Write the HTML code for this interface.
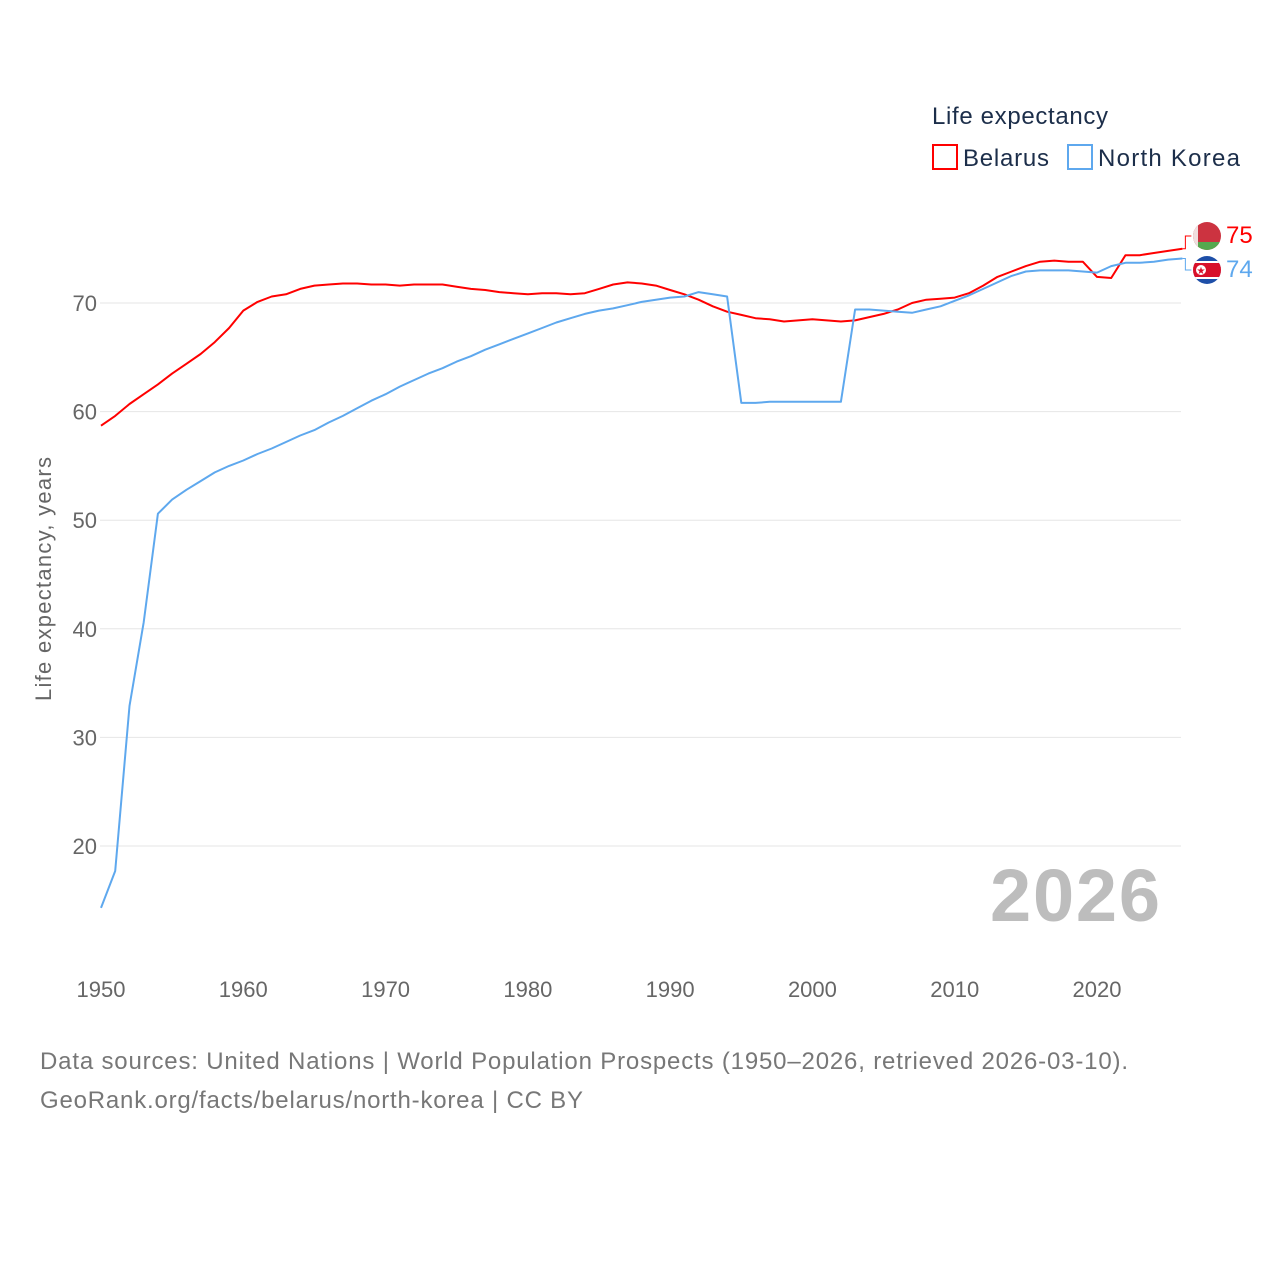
<!DOCTYPE html>
<html><head><meta charset="utf-8"><style>
html,body{margin:0;padding:0;background:#fff;}
svg{display:block;font-family:"Liberation Sans",sans-serif;}
</style></head><body>
<svg id="chart" width="1280" height="1280" viewBox="0 0 1280 1280" xmlns="http://www.w3.org/2000/svg">
<g id="grid"></g>
<g id="yticks"></g>
<g id="xticks"></g>
<text transform="translate(51,579) rotate(-90)" text-anchor="middle" font-size="22" fill="#666" textLength="244">Life expectancy, years</text>
<text x="1160" y="921" text-anchor="end" font-size="74" font-weight="bold" fill="#bdbdbd" textLength="170">2026</text>
<g id="series"></g>
<g>
<text x="932" y="124" font-size="24" fill="#1c2e4a" textLength="176">Life expectancy</text>
<g>
<rect x="933" y="145" width="24" height="24" fill="none" stroke="#ff0000" stroke-width="2"/>
<text x="963" y="166" font-size="24" fill="#1c2e4a" textLength="86">Belarus</text></g>
<g>
<rect x="1068" y="145" width="24" height="24" fill="none" stroke="#5ea8ee" stroke-width="2"/>
<text x="1098" y="166" font-size="24" fill="#1c2e4a" textLength="142">North Korea</text></g>
</g>
<g>
<clipPath id="c1"><circle cx="1207" cy="236" r="14"/></clipPath>
<g clip-path="url(#c1)"><rect x="1193" y="222" width="28" height="28" fill="#cc3340"/><rect x="1193" y="242" width="28" height="8" fill="#55a84f"/><rect x="1193" y="222" width="5" height="28" fill="#f0dede"/></g></g>
<g>
<clipPath id="c2"><circle cx="1207" cy="270" r="14"/></clipPath>
<g clip-path="url(#c2)"><rect x="1193" y="256" width="28" height="28" fill="#1e4fa8"/><rect x="1193" y="261" width="28" height="18" fill="#fff"/><rect x="1193" y="263" width="28" height="14" fill="#d8102a"/><circle cx="1201" cy="270" r="5" fill="#fff"/><text x="1201" y="274" font-size="10" fill="#d8102a" text-anchor="middle">★</text></g></g>
<text x="1226" y="243" font-size="24" fill="#ff0000">75</text>
<text x="1226" y="277" font-size="24" fill="#5ea8ee">74</text>
<text x="40" y="1069" font-size="24" fill="#777" textLength="1088">Data sources: United Nations | World Population Prospects (1950–2026, retrieved 2026-03-10).</text>
<text x="40" y="1108" font-size="24" fill="#777" textLength="543">GeoRank.org/facts/belarus/north-korea | CC BY</text>
</svg>
<script>
const years = [];for (let y=1950;y<=2026;y++) years.push(y);
const belarus = [58.7,59.6,60.7,61.6,62.5,63.5,64.4,65.3,66.4,67.7,69.3,70.1,70.6,70.8,71.3,71.6,71.7,71.8,71.8,71.7,71.7,71.6,71.7,71.7,71.7,71.5,71.3,71.2,71.0,70.9,70.8,70.9,70.9,70.8,70.9,71.3,71.7,71.9,71.8,71.6,71.2,70.8,70.3,69.7,69.2,68.9,68.6,68.5,68.3,68.4,68.5,68.4,68.3,68.4,68.7,69.0,69.4,70.0,70.3,70.4,70.5,70.9,71.6,72.4,72.9,73.4,73.8,73.9,73.8,73.8,72.4,72.3,74.4,74.4,74.6,74.8,75.0];
const northKorea = [14.3,17.7,32.9,40.6,50.6,51.9,52.8,53.6,54.4,55.0,55.5,56.1,56.6,57.2,57.8,58.3,59.0,59.6,60.3,61.0,61.6,62.3,62.9,63.5,64.0,64.6,65.1,65.7,66.2,66.7,67.2,67.7,68.2,68.6,69.0,69.3,69.5,69.8,70.1,70.3,70.5,70.6,71.0,70.8,70.6,60.8,60.8,60.9,60.9,60.9,60.9,60.9,60.9,69.4,69.4,69.3,69.2,69.1,69.4,69.7,70.2,70.7,71.3,71.9,72.5,72.9,73.0,73.0,73.0,72.9,72.8,73.4,73.7,73.7,73.8,74.0,74.1];
const yTicks = [20,30,40,50,60,70];
const xTicks = [1950,1960,1970,1980,1990,2000,2010,2020];
const NS="http://www.w3.org/2000/svg";
const xs = y => 101 + (y-1950)*(1097-101)/70;
const ys = v => 303 + (70-v)*10.86;
function mk(tag, attrs, parent){const e=document.createElementNS(NS,tag);for(const k in attrs)e.setAttribute(k,attrs[k]);parent.appendChild(e);return e;}
const grid=document.getElementById('grid'), yt=document.getElementById('yticks'), xt=document.getElementById('xticks'), ser=document.getElementById('series');
yTicks.forEach(v=>{
  const l=mk('line',{x1:100,x2:1181,y1:ys(v),y2:ys(v),stroke:'#e6e6e6','stroke-width':1},grid);
  
  
  const t=mk('text',{x:97,y:ys(v)+8,'text-anchor':'end','font-size':22,fill:'#666'},yt);
  t.textContent=v;
  
  
});
xTicks.forEach(v=>{
  const t=mk('text',{x:xs(v),y:997,'text-anchor':'middle','font-size':22,fill:'#666'},xt);
  t.textContent=v;
  
  
});
function line(vals,color,name,labelY){
  const d=vals.map((v,i)=>(i?'L':'M')+xs(years[i]).toFixed(1)+','+ys(v).toFixed(1)).join('');
  const p=mk('path',{d:d,fill:'none',stroke:color,'stroke-width':2,'stroke-linejoin':'round'},ser);
  
  
  const ex=xs(years[years.length-1]), ey=ys(vals[vals.length-1]);
  const c=mk('path',{d:`M${ex},${ey}H${ex+3}V${labelY}H${ex+9}`,fill:'none',stroke:color,'stroke-width':1},ser);
  
  
}
line(belarus,'#ff0000','belarus',236);
line(northKorea,'#5ea8ee','north-korea',270);
</script>
</body></html>
